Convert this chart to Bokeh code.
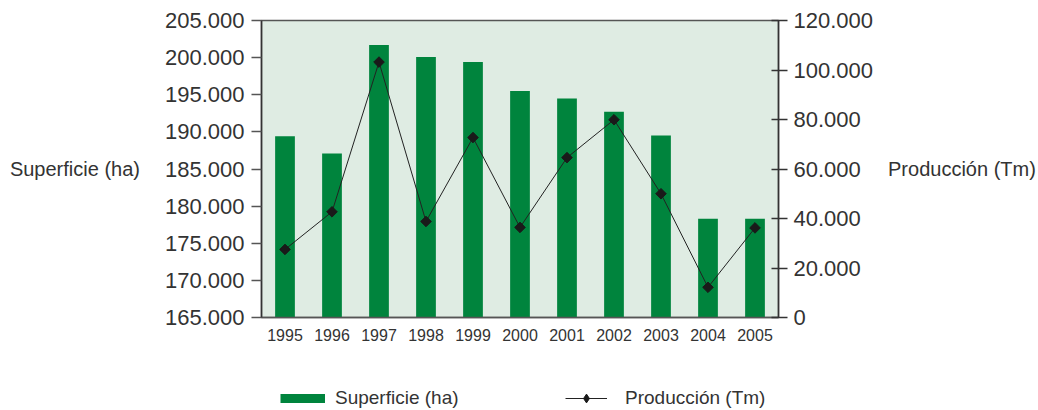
from math import pi
from bokeh.plotting import figure
from bokeh.layouts import column
from bokeh.models import (Range1d, FactorRange, LinearAxis, FixedTicker, CustomJSTickFormatter,
                          Legend, LegendItem, ColumnDataSource)
from bokeh.embed import file_html
from bokeh.resources import INLINE

years = ["1995", "1996", "1997", "1998", "1999", "2000", "2001", "2002", "2003", "2004", "2005"]
superficie = [189400, 187100, 201700, 200100, 199400, 195500, 194500, 192700, 189500, 178300, 178300]
produccion = [27500, 42700, 103200, 38800, 72700, 36400, 64600, 79900, 50000, 12200, 36200]
left_ticks = [165000, 170000, 175000, 180000, 185000, 190000, 195000, 200000, 205000]
right_ticks = [0, 20000, 40000, 60000, 80000, 100000, 120000]
left_title = "Superficie (ha)"
right_title = "Producción (Tm)"

FONT = "Liberation Sans"
TXT = "#333333"
GREEN = "#00843d"

src = ColumnDataSource(dict(year=years, sup=superficie, prod=produccion))

p = figure(width=1038, height=348, x_range=FactorRange(*years, range_padding=0),
           y_range=Range1d(165000, 205000), output_backend="svg", toolbar_location=None,
           min_border_left=261, min_border_right=253, min_border_top=20, min_border_bottom=31)
p.extra_y_ranges = {"prod": Range1d(0, 120000)}

p.border_fill_color = "#ffffff"
p.background_fill_color = "#dfece3"
p.outline_line_color = "#555555"
p.outline_line_width = 1.5
p.xgrid.visible = False
p.ygrid.visible = False

fmt = CustomJSTickFormatter(code="""
const s = Math.round(tick).toString();
return s.replace(/\\B(?=(\\d{3})+(?!\\d))/g, '.');
""")

def style_title(ax, standoff):
    ax.axis_label_orientation = "horizontal"
    ax.axis_label_text_font = FONT
    ax.axis_label_text_font_size = "20px"
    ax.axis_label_text_font_style = "normal"
    ax.axis_label_text_color = TXT
    ax.axis_label_standoff = standoff

ya = p.yaxis[0]
ya.ticker = FixedTicker(ticks=left_ticks)
ya.formatter = fmt
ya.major_label_text_font = FONT
ya.major_label_text_font_size = "22px"
ya.major_label_text_color = TXT
ya.major_tick_in = 0
ya.major_tick_out = 10
ya.minor_tick_line_color = None
ya.axis_line_color = "#333333"
ya.axis_line_width = 1.5
ya.major_tick_line_color = "#555555"
ya.major_tick_line_width = 1.5
ya.major_label_standoff = 7
ya.axis_label = left_title
style_title(ya, 22)

ra = LinearAxis(y_range_name="prod", ticker=FixedTicker(ticks=right_ticks), formatter=fmt)
ra.major_label_text_font = FONT
ra.major_label_text_font_size = "22px"
ra.major_label_text_color = TXT
ra.major_tick_in = 7
ra.major_tick_out = 9
ra.minor_tick_line_color = None
ra.axis_line_color = "#333333"
ra.axis_line_width = 1.5
ra.major_tick_line_color = "#333333"
ra.major_tick_line_width = 1.5
ra.major_label_standoff = 6
ra.axis_label = right_title
style_title(ra, 12)
p.add_layout(ra, "right")

xa = p.xaxis[0]
xa.major_label_text_font = FONT
xa.major_label_text_font_size = "16px"
xa.major_label_text_color = TXT
xa.major_tick_line_color = None
xa.axis_line_color = "#555555"
xa.axis_line_width = 1.5
xa.major_label_standoff = 5

p.vbar(x="year", top="sup", bottom=165000, width=0.42, source=src,
       fill_color=GREEN, line_color=None)
p.line(x="year", y="prod", source=src, y_range_name="prod", line_color="#222222", line_width=1)
p.scatter(x="year", y="prod", source=src, y_range_name="prod", marker="square",
          angle=pi / 4, size=7.5, fill_color="#1a1a1a", line_color="#1a1a1a")

# legend strip (its frame is aligned with the chart frame by the column layout)
q = figure(width=1038, height=62, x_range=Range1d(0, 1), y_range=Range1d(0, 1),
           output_backend="svg", toolbar_location=None, min_border=0,
           x_axis_location=None, y_axis_location=None)
q.outline_line_color = None
q.xgrid.visible = False
q.ygrid.visible = False
q.border_fill_color = "#ffffff"
q.background_fill_color = "#ffffff"

nan = float("nan")
sw = q.line(x=[nan], y=[nan], line_color=GREEN, line_width=9)
ln2 = q.line(x=[nan], y=[nan], line_color="#222222", line_width=1)
mk2 = q.scatter(x=[nan], y=[nan], marker="diamond", size=12,
                fill_color="#1a1a1a", line_color="#1a1a1a")

def mk_legend(items, loc, gw, gh, standoff):
    return Legend(items=items, location=loc, orientation="horizontal",
                  glyph_width=gw, glyph_height=gh, label_standoff=standoff,
                  label_text_font=FONT, label_text_font_size="19px", label_text_color=TXT,
                  padding=0, margin=0, border_line_color=None, background_fill_alpha=0)

q.add_layout(mk_legend([LegendItem(label=left_title, renderers=[sw])], (19, 1), 45, 16, 10), "center")
q.add_layout(mk_legend([LegendItem(label=right_title, renderers=[ln2, mk2])], (304, 1), 42, 22, 18), "center")

layout = column(p, q, spacing=0)
open("out.html", "w").write(file_html(layout, INLINE))
